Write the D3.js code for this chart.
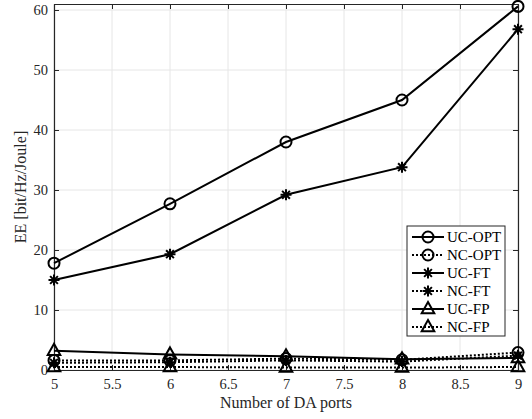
<!DOCTYPE html>
<html><head><meta charset="utf-8">
<script src="https://cdn.jsdelivr.net/npm/d3@7"></script>
<style>body{margin:0;background:#fff}</style>
</head><body>
<svg id="c" width="532" height="419"></svg>
<script>
const xValues = [5, 6, 7, 8, 9];
const ucOpt = [17.8, 27.7, 38.0, 45.0, 60.6];
const ucFt  = [15.0, 19.3, 29.2, 33.8, 56.8];
const ncOpt = [1.6, 1.6, 1.9, 1.7, 2.9];
const ncFt  = [1.2, 1.3, 1.6, 1.4, 2.4];
const ucFp  = [3.2, 2.6, 2.3, 1.8, 2.0];
const ncFp  = [0.5, 0.5, 0.4, 0.4, 0.5];
const xTicks = [5, 5.5, 6, 6.5, 7, 7.5, 8, 8.5, 9];
const yTicks = [0, 10, 20, 30, 40, 50, 60];
const seriesNames = ["UC-OPT", "NC-OPT", "UC-FT", "NC-FT", "UC-FP", "NC-FP"];

const series = [
  {name: seriesNames[0], v: ucOpt, dash: null, m: "o"},
  {name: seriesNames[1], v: ncOpt, dash: "2,2", m: "o"},
  {name: seriesNames[2], v: ucFt, dash: null, m: "*"},
  {name: seriesNames[3], v: ncFt, dash: "2,2", m: "*"},
  {name: seriesNames[4], v: ucFp, dash: null, m: "^"},
  {name: seriesNames[5], v: ncFp, dash: "2,2", m: "^"}
];

const svg = d3.select("#c");
const L = 54, R = 518, T = 4, B = 370;
const x = d3.scaleLinear().domain([5, 9]).range([L, R]);
const y = d3.scaleLinear().domain([0, 61]).range([B, T]);
const font = "'Liberation Serif','Times New Roman',serif";

// grid
const g = svg.append("g");
g.selectAll(".gx").data(xTicks).enter().append("line")
  .attr("x1", d => x(d)).attr("x2", d => x(d)).attr("y1", T).attr("y2", B)
  .attr("stroke", "#e6e6e6").attr("stroke-width", 1);
g.selectAll(".gy").data(yTicks).enter().append("line")
  .attr("y1", d => y(d)).attr("y2", d => y(d)).attr("x1", L).attr("x2", R)
  .attr("stroke", "#e6e6e6").attr("stroke-width", 1);

// axes
const axColor = "#262626";
const xb = svg.append("g").attr("transform", `translate(0,${B})`)
  .call(d3.axisBottom(x).tickValues(xTicks).tickSizeInner(-5).tickSizeOuter(0).tickPadding(9).tickFormat(d3.format("~g")));
const xt = svg.append("g").attr("transform", `translate(0,${T})`)
  .call(d3.axisTop(x).tickValues(xTicks).tickSizeInner(-5).tickSizeOuter(0).tickFormat(""));
const yl = svg.append("g").attr("transform", `translate(${L},0)`)
  .call(d3.axisLeft(y).tickValues(yTicks).tickSizeInner(-5).tickSizeOuter(0).tickPadding(6));
const yr = svg.append("g").attr("transform", `translate(${R},0)`)
  .call(d3.axisRight(y).tickValues(yTicks).tickSizeInner(-5).tickSizeOuter(0).tickFormat(""));
[xb, xt, yl, yr].forEach(a => {
  a.selectAll("path").attr("stroke", axColor).attr("stroke-width", 1.2);
  a.selectAll("line").attr("stroke", axColor).attr("stroke-width", 1);
  a.selectAll("text").attr("fill", axColor).style("font-family", font).style("font-size", "14.5px");
});

const line = d3.line().x((d, i) => x(xValues[i])).y(d => y(d));

function marker(sel, type, cx, cy) {
  if (type === "o") {
    sel.append("circle").attr("cx", cx).attr("cy", cy).attr("r", 5.5)
      .attr("fill", "none").attr("stroke", "#000").attr("stroke-width", 2);
  } else if (type === "*") {
    const r = 5.5;
    const p = [];
    for (let k = 0; k < 4; k++) {
      const a = k * Math.PI / 4;
      p.push(`M${cx - r * Math.cos(a)},${cy - r * Math.sin(a)}L${cx + r * Math.cos(a)},${cy + r * Math.sin(a)}`);
    }
    sel.append("path").attr("d", p.join("")).attr("stroke", "#000").attr("stroke-width", 2).attr("fill", "none");
  } else {
    const r = 7;
    sel.append("path").attr("d", `M${cx},${cy - r}L${cx + r * 0.9},${cy + r * 0.6}L${cx - r * 0.9},${cy + r * 0.6}Z`)
      .attr("fill", "none").attr("stroke", "#000").attr("stroke-width", 2).attr("stroke-linejoin", "miter");
  }
}

const plot = svg.append("g");
series.forEach(s => {
  plot.append("path").attr("d", line(s.v)).attr("fill", "none").attr("stroke", "#000")
    .attr("stroke-width", 2).attr("stroke-dasharray", s.dash);
  s.v.forEach((v, i) => marker(plot, s.m, x(xValues[i]), y(v)));
});

// labels
svg.append("text").attr("x", (L + R) / 2).attr("y", 408).attr("text-anchor", "middle")
  .style("font-family", font).style("font-size", "16px").attr("fill", axColor).text("Number of DA ports");
svg.append("text").attr("transform", `translate(26,${(T + B) / 2}) rotate(-90)`).attr("text-anchor", "middle")
  .style("font-family", font).style("font-size", "16px").attr("fill", axColor).text("EE [bit/Hz/Joule]");

// legend
const lg = svg.append("g");
const lx = 407, ly = 226, lw = 98, lh = 110;
lg.append("rect").attr("x", lx).attr("y", ly).attr("width", lw).attr("height", lh)
  .attr("fill", "#fff").attr("stroke", axColor).attr("stroke-width", 1);
series.forEach((s, i) => {
  const yy = ly + 11 + i * 18;
  lg.append("line").attr("x1", lx + 5).attr("x2", lx + 37).attr("y1", yy).attr("y2", yy)
    .attr("stroke", "#000").attr("stroke-width", 2).attr("stroke-dasharray", s.dash);
  marker(lg, s.m, lx + 21, yy);
  lg.append("text").attr("x", lx + 40).attr("y", yy + 5).style("font-family", font).style("font-size", "15px")
    .attr("fill", "#000").text(s.name);
});
</script>
</body></html>
